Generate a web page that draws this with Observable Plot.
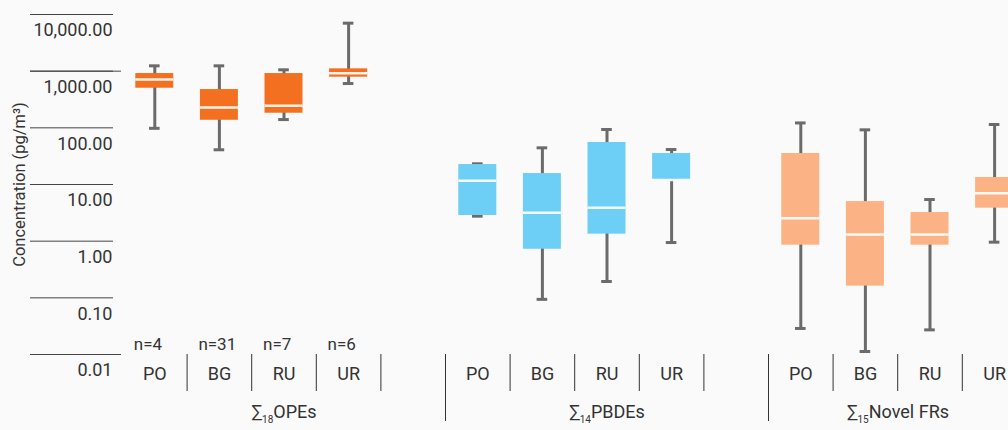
<!DOCTYPE html>
<html><head><meta charset="utf-8">
<script src="https://cdn.jsdelivr.net/npm/d3@7"></script>
<script src="https://cdn.jsdelivr.net/npm/@observablehq/plot@0.6"></script>
<style>
html,body{margin:0;padding:0;background:#fafafa;}
#chart{width:1008px;height:430px;overflow:hidden;}
</style></head><body><div id="chart"></div>
<script>
const groups = ["OPEs", "PBDEs", "Novel FRs"];
const groupSubs = ["18", "14", "15"];
const groupColors = ["#F37021", "#6DCFF6", "#FBB284"];
const sites = ["PO", "BG", "RU", "UR"];
const opeCounts = ["n=4", "n=31", "n=7", "n=6"];
const yTicks = [0.01, 0.1, 1, 10, 100, 1000, 10000];
const yLongTicks = [0.01, 1000];
const yTitle = "Concentration (pg/m³)";
// [whisker low, Q1, median, Q3, whisker high] per site (PO, BG, RU, UR)
const opeStats = [[98, 500, 713, 908, 1242], [41, 136, 228, 474, 1242], [140, 181, 245, 908, 1057], [605, 783, 921, 1099, 7031]];
const pbdeStats = [[2.76, 2.84, 11.6, 22.5, 23.2], [0.094, 0.72, 3.16, 15.6, 44.4], [0.194, 1.33, 3.87, 55.1, 93.4], [0.946, 12.0, 12.0, 35.2, 41.4]];
const novelStats = [[0.0288, 0.85, 2.55, 35.2, 122], [0.0113, 0.161, 1.31, 5.0, 92.2], [0.0272, 0.85, 1.31, 3.2, 5.43], [0.96, 3.82, 7.03, 13.3, 114.5]];
const allStats = [opeStats, pbdeStats, novelStats];

// build slots: 4 sites + 1 blank slot per group
const slots = [];
const rows = [];
groups.forEach((g, gi) => {
  sites.forEach((s, si) => {
    const key = g + "|" + s;
    slots.push(key);
    const [lo, q1, med, q3, hi] = allStats[gi][si];
    rows.push({key, group: g, site: s, lo, q1, med, q3, hi, n: gi === 0 ? opeCounts[si] : null});
  });
  slots.push(g + "|");
});
const siteKeys = rows.map(d => d.key);
const blankKeys = groups.map(g => g + "|");
const nRows = rows.filter(d => d.n);
const groupLabels = groups.map((g, i) => ({key: g + "|RU", label: "∑" + groupSubs[i] + g, group: g}));

const W = 1008, H = 430;
const mL = 122, mR = -83, mT = 14, mB = 76;
const half = (W - mR - mL) / slots.length / 2;
const fmt = d3.format(",.2f");
const grey = "#6b6b6b";
const ink = "#333";

const chart = Plot.plot({
  width: W, height: H,
  marginLeft: mL, marginRight: mR, marginTop: mT, marginBottom: mB,
  style: {background: "#fafafa", fontFamily: "Roboto, sans-serif", fontSize: "18px", color: ink},
  x: {type: "band", domain: slots, padding: 0, round: false, label: null},
  y: {type: "log", domain: [0.01, 10000], label: null},
  color: {domain: groups, range: groupColors},
  marks: [
    Plot.axisY(yTicks, {tickSize: 83, dx: -9, tickFormat: () => "", stroke: "#444", label: null}),
    Plot.axisY(yLongTicks, {tickSize: 91, dx: -1, tickFormat: () => "", stroke: "#444", label: null}),
    Plot.axisY(yTicks, {tickSize: 0, tickPadding: 10, dy: 16, tickFormat: fmt, fontSize: 18, fill: ink, label: null}),
    Plot.axisX(siteKeys, {tickSize: 37, dx: half, tickFormat: () => "", stroke: "#333", label: null}),
    Plot.axisX(blankKeys, {tickSize: 67, dx: half, tickFormat: () => "", stroke: "#333", label: null}),
    Plot.ruleX(rows, {x: "key", y1: "lo", y2: "hi", stroke: grey, strokeWidth: 3}),
    Plot.tickY(rows, {x: "key", y: "lo", stroke: grey, strokeWidth: 3, insetLeft: 27, insetRight: 27}),
    Plot.tickY(rows, {x: "key", y: "hi", stroke: grey, strokeWidth: 3, insetLeft: 27, insetRight: 27}),
    Plot.barY(rows, {x: "key", y1: "q1", y2: "q3", fill: "group", insetLeft: 13.3, insetRight: 13.3}),
    Plot.tickY(rows, {x: "key", y: "med", stroke: "#ffffff", strokeOpacity: 0.92, strokeWidth: 2.5, insetLeft: 13.3, insetRight: 13.3}),
    Plot.text(rows, {x: "key", text: "site", frameAnchor: "bottom", dy: 25, fontSize: 18, fill: ink}),
    Plot.text(nRows, {x: "key", text: "n", frameAnchor: "bottom", dy: -5, dx: -21, textAnchor: "start", fontSize: 17, fill: ink}),
    Plot.text(groupLabels.slice(0, 2), {x: "key", text: "label", frameAnchor: "bottom", dy: 63, fontSize: 18, fill: ink}),
    Plot.text(groupLabels.slice(2), {x: "key", text: "label", frameAnchor: "bottom", dy: 63, dx: -32, fontSize: 18, fill: ink}),
    Plot.text([yTitle], {text: d => d, frameAnchor: "left", textAnchor: "middle", rotate: -90, dx: -103, fontSize: 16.5, fill: ink})
  ]
});

// subscript the ∑ count in the group labels
d3.select(chart).selectAll("text").each(function() {
  const t = this.textContent;
  if (!t.startsWith("∑")) return;
  const gi = groupLabels.findIndex(d => d.label === t);
  if (gi < 0) return;
  const el = d3.select(this);
  el.text(null);
  el.append("tspan").text("∑");
  el.append("tspan").attr("font-size", 10).attr("dy", 5).text(groupSubs[gi]);
  el.append("tspan").attr("dy", -5).text(groups[gi]);
});

document.getElementById("chart").appendChild(chart);
</script></body></html>
